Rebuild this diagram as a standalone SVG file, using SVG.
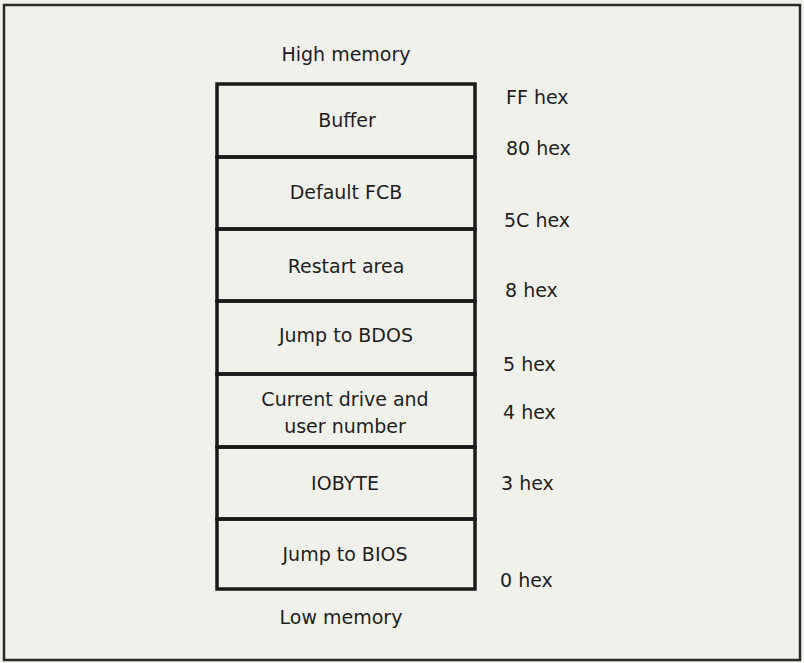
<svg xmlns="http://www.w3.org/2000/svg" width="804" height="663" viewBox="0 0 804 663">
<style>
text{font-family:"DejaVu Sans","Liberation Sans",sans-serif;font-size:19px;fill:#1e1e1e}
.c{text-anchor:middle}
.box{fill:none;stroke:#1a1a1a;stroke-width:3.5}
</style>
<rect x="0" y="0" width="804" height="663" fill="#f1f1ec"/>
<rect x="4" y="5" width="796" height="655" fill="none" stroke="#2a2a2a" stroke-width="2.5"/>
<text class="c" x="346" y="61">High memory</text>
<g id="buffer"><rect class="box" x="217" y="84" width="258" height="73"/><text class="c" x="347" y="127">Buffer</text></g>
<g id="fcb"><rect class="box" x="217" y="157" width="258" height="72"/><text class="c" x="346" y="199">Default FCB</text></g>
<g id="restart"><rect class="box" x="217" y="229" width="258" height="72"/><text class="c" x="346" y="273">Restart area</text></g>
<g id="bdos"><rect class="box" x="217" y="301" width="258" height="73"/><text class="c" x="346" y="342">Jump to BDOS</text></g>
<g id="drive"><rect class="box" x="217" y="374" width="258" height="73"/><text class="c" x="345" y="406">Current drive and</text><text class="c" x="345" y="433">user number</text></g>
<g id="iobyte"><rect class="box" x="217" y="447" width="258" height="72"/><text class="c" x="345" y="490">IOBYTE</text></g>
<g id="bios"><rect class="box" x="217" y="519" width="258" height="70"/><text class="c" x="345" y="561">Jump to BIOS</text></g>
<text class="c" x="341" y="624">Low memory</text>
<g id="addresses">
<text x="506" y="104">FF hex</text>
<text x="506" y="155">80 hex</text>
<text x="504" y="227">5C hex</text>
<text x="505" y="297">8 hex</text>
<text x="503" y="371">5 hex</text>
<text x="503" y="419">4 hex</text>
<text x="501" y="490">3 hex</text>
<text x="500" y="587">0 hex</text>
</g>
<g id="connectors"/>
</svg>
